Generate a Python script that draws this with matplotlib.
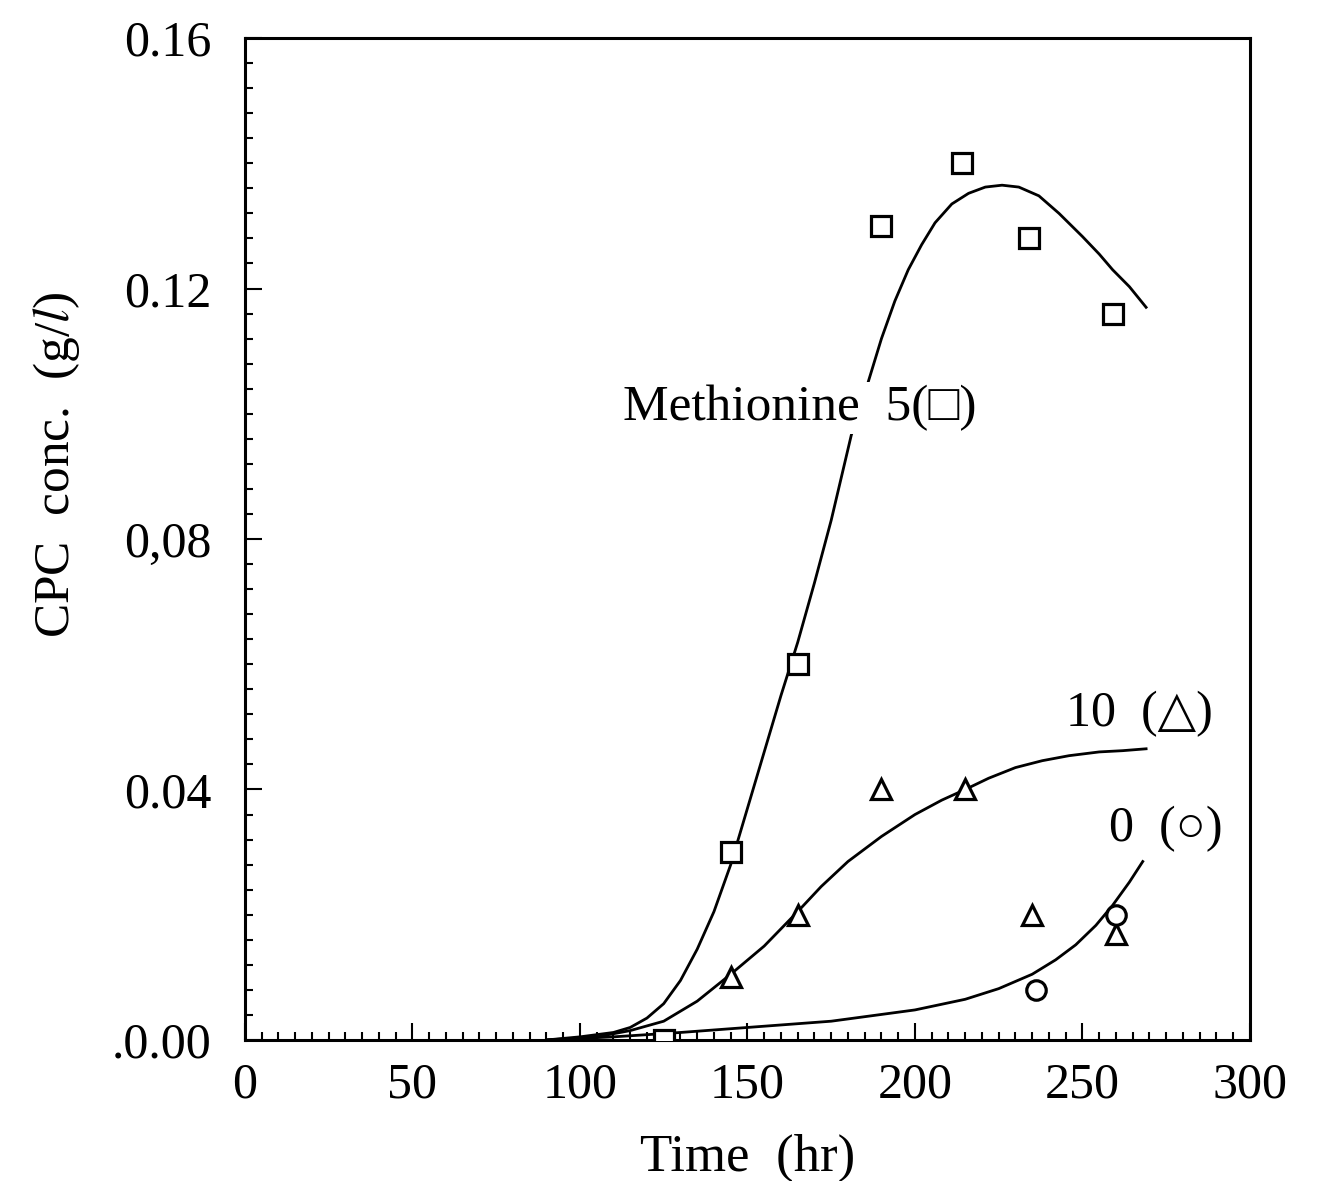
"""
CPC concentration vs time for three methionine levels
"""
import matplotlib
matplotlib.use("Agg")
import matplotlib.pyplot as plt
from matplotlib.ticker import MultipleLocator

# measured points
MET5_T = [125, 145, 165, 190, 214, 234, 259]
MET5_C = [0.000, 0.030, 0.060, 0.130, 0.140, 0.128, 0.116]

MET10_T = [145, 165, 190, 215, 235, 260]
MET10_C = [0.010, 0.020, 0.040, 0.040, 0.020, 0.017]

MET0_T = [236, 260]
MET0_C = [0.008, 0.020]

# fitted curves
FIT5_T = [90, 100, 110, 115, 120, 125, 130, 135, 140, 145, 150, 155, 160,
          165, 170, 175, 181, 186, 190, 194, 198, 202, 206, 211, 216, 221,
          226, 231, 237, 243, 250, 255, 259, 264, 269]
FIT5_C = [0.0, 0.0005, 0.0012, 0.002, 0.0035, 0.0058, 0.0095, 0.0145,
          0.0205, 0.028, 0.037, 0.046, 0.055, 0.0635, 0.073, 0.083, 0.0966,
          0.105, 0.112, 0.118, 0.123, 0.127, 0.1305, 0.1335, 0.1352, 0.1362,
          0.1365, 0.1362, 0.1348, 0.132, 0.1283, 0.1255, 0.123, 0.1203,
          0.117]

FIT10_T = [90, 105, 115, 125, 135, 145, 155, 165, 172, 180, 190, 200, 208,
           215, 222, 230, 238, 246, 255, 262, 269]
FIT10_C = [0.0, 0.0005, 0.0015, 0.003, 0.0062, 0.0105, 0.015, 0.0205,
           0.0245, 0.0285, 0.0325, 0.036, 0.0383, 0.040, 0.0418, 0.0435,
           0.0446, 0.0454, 0.046, 0.0462, 0.0465]

FIT0_T = [90, 110, 130, 150, 175, 200, 215, 225, 235, 242, 248, 254, 259,
          264, 268]
FIT0_C = [0.0, 0.0005, 0.0012, 0.002, 0.003, 0.0048, 0.0065, 0.0082,
          0.0105, 0.0128, 0.0152, 0.0183, 0.0215, 0.0252, 0.0285]

Y_TICKS = [0.00, 0.04, 0.08, 0.12, 0.16]
Y_LABELS = [".0.00", "0.04", "0,08", "0.12", "0.16"]
X_TICKS = [0, 50, 100, 150, 200, 250, 300]

plt.rcParams["font.family"] = ["Liberation Serif", "DejaVu Serif",
                               "DejaVu Sans"]
plt.rcParams["mathtext.fontset"] = "stix"

fig = plt.figure(figsize=(13.22, 11.81), dpi=100)
ax = fig.add_axes([0.1853, 0.1194, 0.7602, 0.8484])

line_kw = dict(color="black", linewidth=2.0, zorder=2)
ax.plot(FIT5_T, FIT5_C, **line_kw)
ax.plot(FIT10_T, FIT10_C, **line_kw)
ax.plot(FIT0_T, FIT0_C, **line_kw)

mark_kw = dict(linestyle="none", markerfacecolor="white",
               markeredgecolor="black", markeredgewidth=2.3, zorder=3)
ax.plot(MET5_T, MET5_C, marker="s", markersize=14, **mark_kw)
ax.plot(MET10_T, MET10_C, marker="^", markersize=14, **mark_kw)
ax.plot(MET0_T, MET0_C, marker="o", markersize=14, **mark_kw)

# curve labels
ax.text(165.5, 0.1009, "Methionine  5(\u25a1)", fontsize=37, ha="center",
        va="center", zorder=4,
        bbox=dict(facecolor="white", edgecolor="none", pad=2))
ax.text(267, 0.0520, "10  (\u25b3)", fontsize=36, ha="center", va="center")
ax.text(275, 0.0337, "0  (\u25cb)", fontsize=36, ha="center", va="center")

ax.set_xlim(0, 300)
ax.set_ylim(0, 0.16)
ax.set_xticks(X_TICKS)
ax.set_yticks(Y_TICKS)
ax.set_yticklabels(Y_LABELS)
ax.xaxis.set_minor_locator(MultipleLocator(5))
ax.yaxis.set_minor_locator(MultipleLocator(0.004))
ax.tick_params(which="both", direction="in", labelsize=36, width=1.5,
               top=False, right=False)
ax.tick_params(which="major", length=12)
ax.tick_params(which="minor", length=6)
ax.tick_params(axis="x", which="major", pad=16)
ax.tick_params(axis="y", which="major", pad=24)
for spine in ax.spines.values():
    spine.set_linewidth(2.2)

ax.set_xlabel("Time  (hr)", fontsize=38, labelpad=18)
ax.set_ylabel("CPC  conc.  (g/$\\mathit{l}$)", fontsize=37)
ax.yaxis.set_label_coords(-0.162, 0.574)

fig.savefig("out.png", dpi=100)
plt.close(fig)
